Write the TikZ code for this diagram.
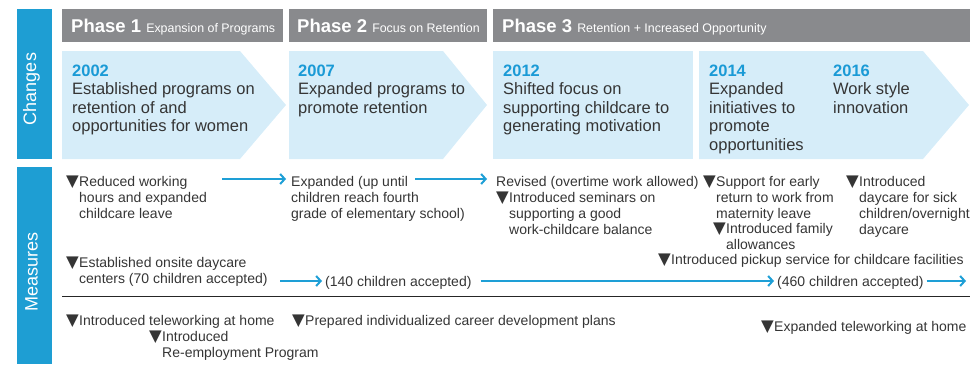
\documentclass[tikz,border=0pt]{standalone}
\usepackage{fontspec}
\setmainfont{Liberation Sans}
\newfontfamily\symf{DejaVu Sans}
\usetikzlibrary{arrows.meta}
\definecolor{bandblue}{HTML}{1E9ED3}
\definecolor{yearblue}{HTML}{1A9AD6}
\definecolor{chevron}{HTML}{D6EDF9}
\definecolor{phasegray}{HTML}{898A8D}
\definecolor{txtgray}{HTML}{353535}
\definecolor{arrowblue}{HTML}{1E9FD6}
\newcommand\tri{\llap{\smash{\fontsize{16.5}{16}\symf ▼}\kern0.3pt}}
\newcommand\mst{\rule{0pt}{11pt}}
\newcommand\cst{\rule{0pt}{14pt}}
\tikzset{
  band/.style={fill=bandblue, draw=none},
  bandlabel/.style={text=white, rotate=90, font=\fontsize{18}{20}\selectfont, inner sep=0pt},
  phasebox/.style={fill=phasegray, draw=none},
  phasetext/.style={anchor=base west, text=white, inner sep=0pt},
  chev/.style={fill=chevron, draw=none},
  ctext/.style={anchor=north west, inner sep=0pt, align=left, text=txtgray, font=\fontsize{16.5}{18.5}\selectfont},
  mtext/.style={anchor=north west, inner sep=0pt, align=left, text=txtgray, font=\fontsize{14}{16}\selectfont},
  stext/.style={anchor=base west, inner sep=0pt, text=txtgray, font=\fontsize{14}{16}\selectfont},
  barrow/.style={draw=arrowblue, line width=2pt, -{Straight Barb[length=4.5pt,width=10pt]}},
}
\newcommand\yr[1]{{\color{yearblue}\bfseries #1}}
\newcommand\ph[2]{{\bfseries\fontsize{18.5}{20}\selectfont Phase #1 }{\fontsize{12.4}{14}\selectfont #2}}
\begin{document}
\begin{tikzpicture}[x=1pt, y=-1pt]
\useasboundingbox (0,0) rectangle (971,364);
% side bands
\fill[band] (17,9) rectangle (52,159);
\fill[band] (17,167) rectangle (52,364);
\node[bandlabel] (lchg) at (31.5,89) {Changes};
\node[bandlabel] (lmea) at (31.5,272) {Measures};
% phase headers
\fill[phasebox] (62,9) rectangle (283,42);
\fill[phasebox] (289,9) rectangle (487,42);
\fill[phasebox] (493,9) rectangle (970,42);
\node[phasetext] (p1) at (71,32.5) {\ph{1}{Expansion of Programs}};
\node[phasetext] (p2) at (297,32.5) {\ph{2}{Focus on Retention}};
\node[phasetext] (p3) at (502,32.5) {\ph{3}{Retention + Increased Opportunity}};
% chevrons
\fill[chev] (62,51) -- (240,51) -- (286,105) -- (240,159) -- (62,159) -- cycle;
\fill[chev] (289,51) -- (443,51) -- (487,105) -- (443,159) -- (289,159) -- cycle;
\fill[chev] (493,51) rectangle (693,159);
\fill[chev] (699,51) -- (923,51) -- (969,105) -- (923,159) -- (699,159) -- cycle;
\node[ctext] (c2002) at (72,62) {\cst\yr{2002}\\Established programs on\\retention of and\\opportunities for women};
\node[ctext] (c2007) at (298,62) {\cst\yr{2007}\\Expanded programs to\\promote retention};
\node[ctext] (c2012) at (503,62) {\cst\yr{2012}\\Shifted focus on\\supporting childcare to\\generating motivation};
\node[ctext] (c2014) at (709,62) {\cst\yr{2014}\\Expanded\\initiatives to\\promote\\opportunities};
\node[ctext] (c2016) at (833,62) {\cst\yr{2016}\\Work style\\innovation};
% measures
\node[mtext] (red) at (79,175) {\mst\tri Reduced working\\hours and expanded\\childcare leave};
\node[mtext] (exp) at (291,175) {\mst Expanded (up until\\children reach fourth\\grade of elementary school)};
\node[mtext] (rev) at (496,175) {\mst Revised (overtime work allowed)};
\node[mtext] (sem) at (509,191) {\mst\tri Introduced seminars on\\supporting a good\\work-childcare balance};
\node[mtext] (sup) at (716,175) {\mst\tri Support for early\\return to work from\\maternity leave};
\node[mtext] (fam) at (726,222.5) {\mst\tri Introduced family\\allowances};
\node[mtext] (sick) at (859,175) {\mst\tri Introduced\\daycare for sick\\children/overnight\\daycare};
\node[mtext] (pick) at (671,253.5) {\mst\tri Introduced pickup service for childcare facilities};
\node[mtext] (est) at (79,256) {\mst\tri Established onsite daycare\\centers (70 children accepted)};
\node[stext] (n140) at (325,286) {(140 children accepted)};
\node[stext] (n460) at (777,286) {(460 children accepted)};
\node[mtext] (tele) at (79,314.5) {\mst\tri Introduced teleworking at home};
\node[mtext] (reemp) at (162,330.5) {\mst\tri Introduced\\Re-employment Program};
\node[mtext] (career) at (305,314.5) {\mst\tri Prepared individualized career development plans};
\node[mtext] (etele) at (774,320.5) {\mst\tri Expanded teleworking at home};
% arrows
\coordinate (a1s) at (222,179);
\coordinate (a2s) at (415,179);
\coordinate (a3s) at (280,281);
\coordinate (a5e) at (966,281);
\draw[barrow, shorten >=5pt] (a1s) -- (a1s -| exp.west);
\draw[barrow, shorten >=9pt] (a2s) -- (a2s -| rev.west);
\draw[barrow, shorten >=3pt] (a3s) -- (a3s -| n140.west);
\draw[barrow, shorten <=9pt, shorten >=3pt] (n140.east |- a3s) -- (n460.west |- a3s);
\draw[barrow, shorten <=3pt] (n460.east |- a3s) -- (a5e);
% separator
\coordinate (hl1) at (62,296);
\coordinate (hl2) at (970,296);
\draw[line width=0.8pt, black!85] (hl1) -- (hl2);
\end{tikzpicture}
\end{document}
